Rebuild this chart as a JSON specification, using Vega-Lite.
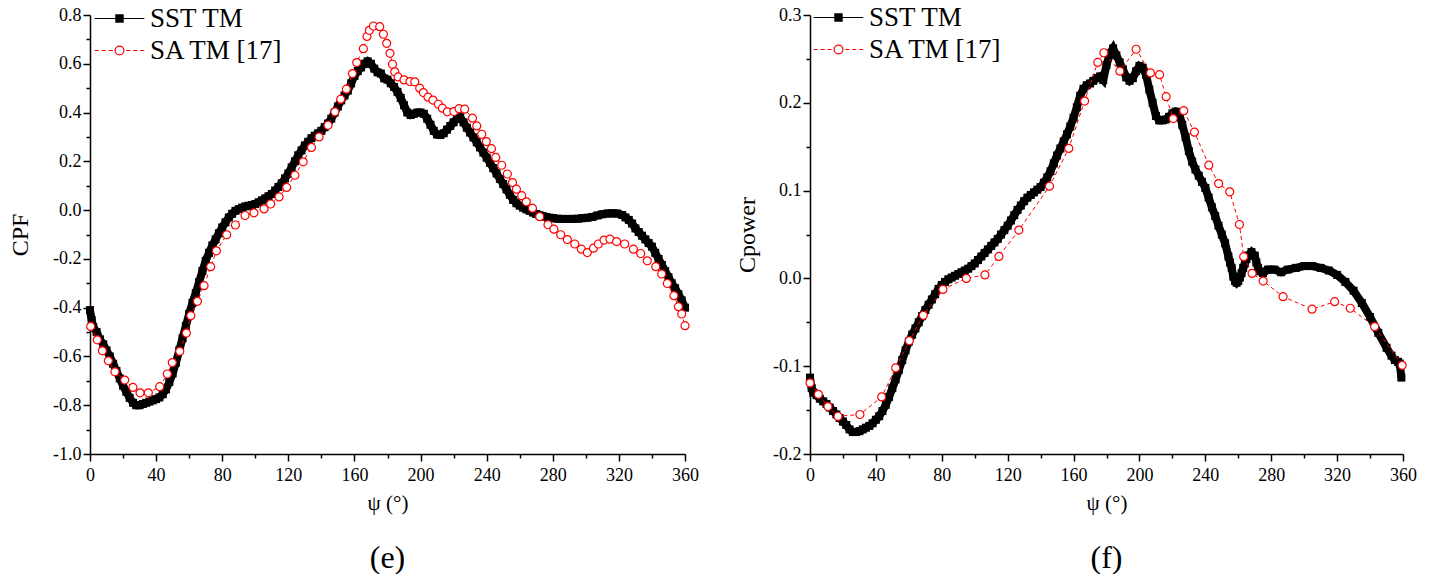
{
  "$schema": "https://vega.github.io/schema/vega-lite/v6.json",
  "background": "white",
  "padding": {"left": 8, "top": 4, "right": 5, "bottom": 0},
  "datasets": {
    "e": [
      {"m":"SST","psi":0,"c":-0.41},{"m":"SST","psi":1,"c":-0.45},{"m":"SST","psi":2,"c":-0.48},{"m":"SST","psi":4,"c":-0.5},{"m":"SST","psi":6,"c":-0.53},{"m":"SST","psi":8,"c":-0.55},{"m":"SST","psi":10,"c":-0.575},{"m":"SST","psi":12,"c":-0.6},{"m":"SST","psi":14,"c":-0.63},{"m":"SST","psi":16,"c":-0.66},{"m":"SST","psi":18,"c":-0.69},{"m":"SST","psi":20,"c":-0.72},{"m":"SST","psi":22,"c":-0.745},{"m":"SST","psi":24,"c":-0.77},{"m":"SST","psi":26,"c":-0.79},{"m":"SST","psi":28,"c":-0.8},{"m":"SST","psi":30,"c":-0.8},{"m":"SST","psi":32,"c":-0.795},{"m":"SST","psi":34,"c":-0.79},{"m":"SST","psi":36,"c":-0.785},{"m":"SST","psi":38,"c":-0.78},{"m":"SST","psi":40,"c":-0.775},{"m":"SST","psi":42,"c":-0.768},{"m":"SST","psi":44,"c":-0.755},{"m":"SST","psi":46,"c":-0.735},{"m":"SST","psi":48,"c":-0.705},{"m":"SST","psi":50,"c":-0.67},{"m":"SST","psi":52,"c":-0.625},{"m":"SST","psi":54,"c":-0.575},{"m":"SST","psi":56,"c":-0.525},{"m":"SST","psi":58,"c":-0.475},{"m":"SST","psi":60,"c":-0.425},{"m":"SST","psi":62,"c":-0.38},{"m":"SST","psi":64,"c":-0.34},{"m":"SST","psi":66,"c":-0.295},{"m":"SST","psi":68,"c":-0.25},{"m":"SST","psi":70,"c":-0.208},{"m":"SST","psi":72,"c":-0.175},{"m":"SST","psi":74,"c":-0.145},{"m":"SST","psi":76,"c":-0.12},{"m":"SST","psi":78,"c":-0.095},{"m":"SST","psi":80,"c":-0.071},{"m":"SST","psi":82,"c":-0.05},{"m":"SST","psi":84,"c":-0.03},{"m":"SST","psi":86,"c":-0.015},{"m":"SST","psi":88,"c":-0.003},{"m":"SST","psi":90,"c":0.004},{"m":"SST","psi":92,"c":0.01},{"m":"SST","psi":94,"c":0.015},{"m":"SST","psi":96,"c":0.018},{"m":"SST","psi":98,"c":0.021},{"m":"SST","psi":100,"c":0.025},{"m":"SST","psi":102,"c":0.032},{"m":"SST","psi":104,"c":0.04},{"m":"SST","psi":106,"c":0.048},{"m":"SST","psi":108,"c":0.057},{"m":"SST","psi":110,"c":0.066},{"m":"SST","psi":112,"c":0.08},{"m":"SST","psi":114,"c":0.095},{"m":"SST","psi":116,"c":0.11},{"m":"SST","psi":118,"c":0.13},{"m":"SST","psi":120,"c":0.15},{"m":"SST","psi":122,"c":0.175},{"m":"SST","psi":124,"c":0.2},{"m":"SST","psi":126,"c":0.225},{"m":"SST","psi":128,"c":0.245},{"m":"SST","psi":130,"c":0.265},{"m":"SST","psi":132,"c":0.28},{"m":"SST","psi":134,"c":0.295},{"m":"SST","psi":136,"c":0.305},{"m":"SST","psi":138,"c":0.315},{"m":"SST","psi":140,"c":0.325},{"m":"SST","psi":142,"c":0.34},{"m":"SST","psi":144,"c":0.355},{"m":"SST","psi":146,"c":0.375},{"m":"SST","psi":148,"c":0.4},{"m":"SST","psi":150,"c":0.425},{"m":"SST","psi":152,"c":0.45},{"m":"SST","psi":154,"c":0.47},{"m":"SST","psi":156,"c":0.49},{"m":"SST","psi":158,"c":0.52},{"m":"SST","psi":160,"c":0.55},{"m":"SST","psi":162,"c":0.57},{"m":"SST","psi":164,"c":0.585},{"m":"SST","psi":166,"c":0.6},{"m":"SST","psi":168,"c":0.61},{"m":"SST","psi":170,"c":0.6},{"m":"SST","psi":172,"c":0.58},{"m":"SST","psi":174,"c":0.565},{"m":"SST","psi":176,"c":0.56},{"m":"SST","psi":178,"c":0.54},{"m":"SST","psi":180,"c":0.535},{"m":"SST","psi":182,"c":0.52},{"m":"SST","psi":184,"c":0.505},{"m":"SST","psi":186,"c":0.485},{"m":"SST","psi":188,"c":0.46},{"m":"SST","psi":190,"c":0.43},{"m":"SST","psi":192,"c":0.4},{"m":"SST","psi":194,"c":0.39},{"m":"SST","psi":196,"c":0.395},{"m":"SST","psi":198,"c":0.4},{"m":"SST","psi":200,"c":0.4},{"m":"SST","psi":202,"c":0.395},{"m":"SST","psi":204,"c":0.375},{"m":"SST","psi":206,"c":0.35},{"m":"SST","psi":208,"c":0.325},{"m":"SST","psi":210,"c":0.31},{"m":"SST","psi":212,"c":0.308},{"m":"SST","psi":214,"c":0.315},{"m":"SST","psi":216,"c":0.33},{"m":"SST","psi":218,"c":0.345},{"m":"SST","psi":220,"c":0.36},{"m":"SST","psi":222,"c":0.375},{"m":"SST","psi":224,"c":0.38},{"m":"SST","psi":226,"c":0.36},{"m":"SST","psi":228,"c":0.338},{"m":"SST","psi":230,"c":0.318},{"m":"SST","psi":232,"c":0.298},{"m":"SST","psi":234,"c":0.278},{"m":"SST","psi":236,"c":0.257},{"m":"SST","psi":238,"c":0.236},{"m":"SST","psi":240,"c":0.215},{"m":"SST","psi":242,"c":0.194},{"m":"SST","psi":244,"c":0.172},{"m":"SST","psi":246,"c":0.15},{"m":"SST","psi":248,"c":0.128},{"m":"SST","psi":250,"c":0.107},{"m":"SST","psi":252,"c":0.085},{"m":"SST","psi":254,"c":0.063},{"m":"SST","psi":256,"c":0.042},{"m":"SST","psi":258,"c":0.028},{"m":"SST","psi":260,"c":0.018},{"m":"SST","psi":262,"c":0.01},{"m":"SST","psi":264,"c":0.003},{"m":"SST","psi":266,"c":-0.003},{"m":"SST","psi":268,"c":-0.01},{"m":"SST","psi":270,"c":-0.016},{"m":"SST","psi":272,"c":-0.021},{"m":"SST","psi":274,"c":-0.025},{"m":"SST","psi":276,"c":-0.028},{"m":"SST","psi":278,"c":-0.031},{"m":"SST","psi":280,"c":-0.033},{"m":"SST","psi":283,"c":-0.035},{"m":"SST","psi":286,"c":-0.036},{"m":"SST","psi":289,"c":-0.036},{"m":"SST","psi":292,"c":-0.036},{"m":"SST","psi":295,"c":-0.035},{"m":"SST","psi":298,"c":-0.033},{"m":"SST","psi":301,"c":-0.031},{"m":"SST","psi":304,"c":-0.028},{"m":"SST","psi":307,"c":-0.022},{"m":"SST","psi":310,"c":-0.017},{"m":"SST","psi":313,"c":-0.014},{"m":"SST","psi":316,"c":-0.013},{"m":"SST","psi":319,"c":-0.014},{"m":"SST","psi":322,"c":-0.02},{"m":"SST","psi":324,"c":-0.03},{"m":"SST","psi":326,"c":-0.04},{"m":"SST","psi":328,"c":-0.055},{"m":"SST","psi":330,"c":-0.075},{"m":"SST","psi":332,"c":-0.09},{"m":"SST","psi":334,"c":-0.105},{"m":"SST","psi":336,"c":-0.12},{"m":"SST","psi":338,"c":-0.135},{"m":"SST","psi":340,"c":-0.15},{"m":"SST","psi":342,"c":-0.175},{"m":"SST","psi":344,"c":-0.2},{"m":"SST","psi":346,"c":-0.225},{"m":"SST","psi":348,"c":-0.25},{"m":"SST","psi":350,"c":-0.275},{"m":"SST","psi":352,"c":-0.3},{"m":"SST","psi":354,"c":-0.32},{"m":"SST","psi":356,"c":-0.345},{"m":"SST","psi":358,"c":-0.37},{"m":"SST","psi":360,"c":-0.4},
      {"m":"SA","psi":0.4,"c":-0.477},{"m":"SA","psi":4.4,"c":-0.532},{"m":"SA","psi":7.5,"c":-0.577},{"m":"SA","psi":11.1,"c":-0.618},{"m":"SA","psi":15.1,"c":-0.663},{"m":"SA","psi":21,"c":-0.697},{"m":"SA","psi":26,"c":-0.727},{"m":"SA","psi":30.3,"c":-0.749},{"m":"SA","psi":35.3,"c":-0.749},{"m":"SA","psi":42.2,"c":-0.724},{"m":"SA","psi":46.8,"c":-0.672},{"m":"SA","psi":49.8,"c":-0.625},{"m":"SA","psi":54.3,"c":-0.579},{"m":"SA","psi":58.3,"c":-0.504},{"m":"SA","psi":61,"c":-0.433},{"m":"SA","psi":65,"c":-0.374},{"m":"SA","psi":69,"c":-0.31},{"m":"SA","psi":73,"c":-0.232},{"m":"SA","psi":76.5,"c":-0.167},{"m":"SA","psi":82.7,"c":-0.101},{"m":"SA","psi":88,"c":-0.061},{"m":"SA","psi":93.8,"c":-0.022},{"m":"SA","psi":99.2,"c":-0.011},{"m":"SA","psi":105.3,"c":0.005},{"m":"SA","psi":109.3,"c":0.025},{"m":"SA","psi":114.4,"c":0.054},{"m":"SA","psi":119,"c":0.093},{"m":"SA","psi":124,"c":0.143},{"m":"SA","psi":129,"c":0.198},{"m":"SA","psi":134,"c":0.257},{"m":"SA","psi":138.6,"c":0.3},{"m":"SA","psi":144,"c":0.348},{"m":"SA","psi":148.2,"c":0.403},{"m":"SA","psi":151.7,"c":0.455},{"m":"SA","psi":155.1,"c":0.496},{"m":"SA","psi":158.8,"c":0.56},{"m":"SA","psi":161.4,"c":0.605},{"m":"SA","psi":165.4,"c":0.662},{"m":"SA","psi":167.6,"c":0.712},{"m":"SA","psi":169,"c":0.737},{"m":"SA","psi":171.5,"c":0.755},{"m":"SA","psi":175.3,"c":0.752},{"m":"SA","psi":177.5,"c":0.721},{"m":"SA","psi":179.5,"c":0.684},{"m":"SA","psi":181.5,"c":0.643},{"m":"SA","psi":183,"c":0.598},{"m":"SA","psi":184.4,"c":0.567},{"m":"SA","psi":186.4,"c":0.546},{"m":"SA","psi":190,"c":0.534},{"m":"SA","psi":193.6,"c":0.527},{"m":"SA","psi":196.5,"c":0.526},{"m":"SA","psi":199.5,"c":0.5},{"m":"SA","psi":201.7,"c":0.482},{"m":"SA","psi":204.5,"c":0.463},{"m":"SA","psi":207.5,"c":0.451},{"m":"SA","psi":210.8,"c":0.434},{"m":"SA","psi":213.2,"c":0.418},{"m":"SA","psi":216.2,"c":0.403},{"m":"SA","psi":220.2,"c":0.404},{"m":"SA","psi":223.3,"c":0.416},{"m":"SA","psi":226.7,"c":0.414},{"m":"SA","psi":231.4,"c":0.377},{"m":"SA","psi":234,"c":0.345},{"m":"SA","psi":237,"c":0.311},{"m":"SA","psi":239.8,"c":0.281},{"m":"SA","psi":242.9,"c":0.252},{"m":"SA","psi":245.5,"c":0.216},{"m":"SA","psi":249.1,"c":0.184},{"m":"SA","psi":252.5,"c":0.148},{"m":"SA","psi":255.6,"c":0.113},{"m":"SA","psi":258,"c":0.086},{"m":"SA","psi":261.2,"c":0.059},{"m":"SA","psi":264,"c":0.034},{"m":"SA","psi":267.7,"c":0.008},{"m":"SA","psi":272.1,"c":-0.027},{"m":"SA","psi":277.1,"c":-0.06},{"m":"SA","psi":280.7,"c":-0.078},{"m":"SA","psi":284.8,"c":-0.101},{"m":"SA","psi":288.8,"c":-0.121},{"m":"SA","psi":293.3,"c":-0.139},{"m":"SA","psi":297.3,"c":-0.16},{"m":"SA","psi":300.9,"c":-0.174},{"m":"SA","psi":304.6,"c":-0.156},{"m":"SA","psi":307.6,"c":-0.139},{"m":"SA","psi":311,"c":-0.123},{"m":"SA","psi":314.6,"c":-0.119},{"m":"SA","psi":318.6,"c":-0.129},{"m":"SA","psi":323.5,"c":-0.139},{"m":"SA","psi":328.8,"c":-0.16},{"m":"SA","psi":333.2,"c":-0.178},{"m":"SA","psi":337.2,"c":-0.208},{"m":"SA","psi":342.3,"c":-0.232},{"m":"SA","psi":345.9,"c":-0.262},{"m":"SA","psi":349.3,"c":-0.301},{"m":"SA","psi":353.3,"c":-0.351},{"m":"SA","psi":356,"c":-0.396},{"m":"SA","psi":358,"c":-0.426},{"m":"SA","psi":360,"c":-0.474}
    ],
    "f": [
      {"m":"SST","psi":0,"c":-0.113},{"m":"SST","psi":1,"c":-0.125},{"m":"SST","psi":2,"c":-0.13},{"m":"SST","psi":4,"c":-0.133},{"m":"SST","psi":6,"c":-0.137},{"m":"SST","psi":8,"c":-0.14},{"m":"SST","psi":10,"c":-0.143},{"m":"SST","psi":12,"c":-0.147},{"m":"SST","psi":14,"c":-0.151},{"m":"SST","psi":16,"c":-0.155},{"m":"SST","psi":18,"c":-0.159},{"m":"SST","psi":20,"c":-0.163},{"m":"SST","psi":22,"c":-0.167},{"m":"SST","psi":24,"c":-0.172},{"m":"SST","psi":26,"c":-0.175},{"m":"SST","psi":28,"c":-0.175},{"m":"SST","psi":30,"c":-0.174},{"m":"SST","psi":32,"c":-0.172},{"m":"SST","psi":34,"c":-0.17},{"m":"SST","psi":36,"c":-0.168},{"m":"SST","psi":38,"c":-0.165},{"m":"SST","psi":40,"c":-0.161},{"m":"SST","psi":42,"c":-0.157},{"m":"SST","psi":44,"c":-0.151},{"m":"SST","psi":46,"c":-0.144},{"m":"SST","psi":48,"c":-0.135},{"m":"SST","psi":50,"c":-0.125},{"m":"SST","psi":52,"c":-0.115},{"m":"SST","psi":54,"c":-0.104},{"m":"SST","psi":56,"c":-0.093},{"m":"SST","psi":58,"c":-0.082},{"m":"SST","psi":60,"c":-0.072},{"m":"SST","psi":62,"c":-0.064},{"m":"SST","psi":64,"c":-0.057},{"m":"SST","psi":66,"c":-0.05},{"m":"SST","psi":68,"c":-0.043},{"m":"SST","psi":70,"c":-0.036},{"m":"SST","psi":72,"c":-0.03},{"m":"SST","psi":74,"c":-0.024},{"m":"SST","psi":76,"c":-0.018},{"m":"SST","psi":78,"c":-0.012},{"m":"SST","psi":80,"c":-0.0075},{"m":"SST","psi":82,"c":-0.004},{"m":"SST","psi":84,"c":-0.001},{"m":"SST","psi":86,"c":0.001},{"m":"SST","psi":88,"c":0.003},{"m":"SST","psi":90,"c":0.005},{"m":"SST","psi":92,"c":0.007},{"m":"SST","psi":94,"c":0.009},{"m":"SST","psi":96,"c":0.011},{"m":"SST","psi":98,"c":0.014},{"m":"SST","psi":100,"c":0.017},{"m":"SST","psi":102,"c":0.021},{"m":"SST","psi":104,"c":0.025},{"m":"SST","psi":106,"c":0.029},{"m":"SST","psi":108,"c":0.033},{"m":"SST","psi":110,"c":0.037},{"m":"SST","psi":112,"c":0.041},{"m":"SST","psi":114,"c":0.045},{"m":"SST","psi":116,"c":0.05},{"m":"SST","psi":118,"c":0.055},{"m":"SST","psi":120,"c":0.06},{"m":"SST","psi":122,"c":0.066},{"m":"SST","psi":124,"c":0.072},{"m":"SST","psi":126,"c":0.078},{"m":"SST","psi":128,"c":0.083},{"m":"SST","psi":130,"c":0.088},{"m":"SST","psi":132,"c":0.092},{"m":"SST","psi":134,"c":0.095},{"m":"SST","psi":136,"c":0.098},{"m":"SST","psi":138,"c":0.101},{"m":"SST","psi":140,"c":0.104},{"m":"SST","psi":142,"c":0.109},{"m":"SST","psi":144,"c":0.115},{"m":"SST","psi":146,"c":0.122},{"m":"SST","psi":148,"c":0.131},{"m":"SST","psi":150,"c":0.14},{"m":"SST","psi":152,"c":0.148},{"m":"SST","psi":154,"c":0.156},{"m":"SST","psi":156,"c":0.164},{"m":"SST","psi":158,"c":0.173},{"m":"SST","psi":160,"c":0.183},{"m":"SST","psi":162,"c":0.195},{"m":"SST","psi":164,"c":0.208},{"m":"SST","psi":166,"c":0.216},{"m":"SST","psi":168,"c":0.22},{"m":"SST","psi":170,"c":0.222},{"m":"SST","psi":172,"c":0.225},{"m":"SST","psi":174,"c":0.228},{"m":"SST","psi":176,"c":0.23},{"m":"SST","psi":178,"c":0.226},{"m":"SST","psi":180,"c":0.243},{"m":"SST","psi":182,"c":0.256},{"m":"SST","psi":184,"c":0.262},{"m":"SST","psi":186,"c":0.254},{"m":"SST","psi":188,"c":0.246},{"m":"SST","psi":190,"c":0.238},{"m":"SST","psi":192,"c":0.229},{"m":"SST","psi":194,"c":0.225},{"m":"SST","psi":196,"c":0.228},{"m":"SST","psi":198,"c":0.236},{"m":"SST","psi":200,"c":0.242},{"m":"SST","psi":202,"c":0.24},{"m":"SST","psi":204,"c":0.232},{"m":"SST","psi":206,"c":0.215},{"m":"SST","psi":208,"c":0.2},{"m":"SST","psi":210,"c":0.185},{"m":"SST","psi":212,"c":0.18},{"m":"SST","psi":214,"c":0.18},{"m":"SST","psi":216,"c":0.181},{"m":"SST","psi":218,"c":0.184},{"m":"SST","psi":220,"c":0.188},{"m":"SST","psi":222,"c":0.19},{"m":"SST","psi":224,"c":0.188},{"m":"SST","psi":226,"c":0.175},{"m":"SST","psi":228,"c":0.161},{"m":"SST","psi":230,"c":0.145},{"m":"SST","psi":232,"c":0.133},{"m":"SST","psi":234,"c":0.124},{"m":"SST","psi":236,"c":0.117},{"m":"SST","psi":238,"c":0.11},{"m":"SST","psi":240,"c":0.103},{"m":"SST","psi":242,"c":0.092},{"m":"SST","psi":244,"c":0.081},{"m":"SST","psi":246,"c":0.071},{"m":"SST","psi":248,"c":0.06},{"m":"SST","psi":250,"c":0.05},{"m":"SST","psi":252,"c":0.04},{"m":"SST","psi":254,"c":0.025},{"m":"SST","psi":255,"c":0.018},{"m":"SST","psi":256,"c":0.012},{"m":"SST","psi":257,"c":0.002},{"m":"SST","psi":258,"c":-0.003},{"m":"SST","psi":259,"c":-0.005},{"m":"SST","psi":260,"c":-0.003},{"m":"SST","psi":261,"c":0.001},{"m":"SST","psi":262,"c":0.006},{"m":"SST","psi":263,"c":0.012},{"m":"SST","psi":264,"c":0.017},{"m":"SST","psi":265,"c":0.022},{"m":"SST","psi":266,"c":0.026},{"m":"SST","psi":268,"c":0.03},{"m":"SST","psi":270,"c":0.026},{"m":"SST","psi":271,"c":0.018},{"m":"SST","psi":272,"c":0.012},{"m":"SST","psi":273,"c":0.008},{"m":"SST","psi":275,"c":0.006},{"m":"SST","psi":278,"c":0.01},{"m":"SST","psi":282,"c":0.01},{"m":"SST","psi":286,"c":0.007},{"m":"SST","psi":290,"c":0.01},{"m":"SST","psi":295,"c":0.012},{"m":"SST","psi":300,"c":0.014},{"m":"SST","psi":305,"c":0.014},{"m":"SST","psi":310,"c":0.012},{"m":"SST","psi":315,"c":0.009},{"m":"SST","psi":320,"c":0.004},{"m":"SST","psi":325,"c":-0.004},{"m":"SST","psi":330,"c":-0.014},{"m":"SST","psi":335,"c":-0.028},{"m":"SST","psi":340,"c":-0.044},{"m":"SST","psi":345,"c":-0.062},{"m":"SST","psi":350,"c":-0.079},{"m":"SST","psi":353,"c":-0.088},{"m":"SST","psi":355,"c":-0.093},{"m":"SST","psi":357,"c":-0.095},{"m":"SST","psi":358,"c":-0.097},{"m":"SST","psi":359,"c":-0.113},
      {"m":"SA","psi":0,"c":-0.119},{"m":"SA","psi":5.1,"c":-0.132},{"m":"SA","psi":10.9,"c":-0.146},{"m":"SA","psi":17,"c":-0.157},{"m":"SA","psi":30.3,"c":-0.155},{"m":"SA","psi":43.5,"c":-0.135},{"m":"SA","psi":52,"c":-0.102},{"m":"SA","psi":60.3,"c":-0.071},{"m":"SA","psi":68.8,"c":-0.042},{"m":"SA","psi":80.7,"c":-0.0125},{"m":"SA","psi":94.9,"c":0},{"m":"SA","psi":106.2,"c":0.004},{"m":"SA","psi":114.7,"c":0.025},{"m":"SA","psi":126.8,"c":0.055},{"m":"SA","psi":145.4,"c":0.105},{"m":"SA","psi":157.1,"c":0.148},{"m":"SA","psi":166.7,"c":0.202},{"m":"SA","psi":174.7,"c":0.246},{"m":"SA","psi":178.4,"c":0.257},{"m":"SA","psi":188.1,"c":0.236},{"m":"SA","psi":198,"c":0.261},{"m":"SA","psi":206.7,"c":0.234},{"m":"SA","psi":212.2,"c":0.232},{"m":"SA","psi":216.2,"c":0.207},{"m":"SA","psi":220.5,"c":0.182},{"m":"SA","psi":226.9,"c":0.191},{"m":"SA","psi":233.4,"c":0.1665},{"m":"SA","psi":242.1,"c":0.129},{"m":"SA","psi":248.1,"c":0.108},{"m":"SA","psi":254.8,"c":0.0986},{"m":"SA","psi":260.7,"c":0.0614},{"m":"SA","psi":263.3,"c":0.0247},{"m":"SA","psi":268.4,"c":0.0057},{"m":"SA","psi":275.1,"c":-0.003},{"m":"SA","psi":287.2,"c":-0.0208},{"m":"SA","psi":304.8,"c":-0.035},{"m":"SA","psi":318.5,"c":-0.0265},{"m":"SA","psi":328,"c":-0.034},{"m":"SA","psi":342.8,"c":-0.055},{"m":"SA","psi":359.5,"c":-0.099}
    ]
  },
  "hconcat": [
    {
      "width": 595,
      "height": 439,
      "data": {"name": "e"},
      "title": {"text": "(e)", "orient": "bottom", "anchor": "middle", "fontSize": 32, "font": "Liberation Serif", "fontWeight": "normal", "color": "black", "offset": 30},
      "encoding": {
        "x": {"field": "psi", "type": "quantitative", "scale": {"domain": [0, 360], "nice": false, "zero": false},
          "axis": {"values": [0,20,40,60,80,100,120,140,160,180,200,220,240,260,280,300,320,340,360], "labelExpr": "datum.value % 40 === 0 ? datum.label : ''", "tickSize": {"condition": {"test": "datum.value % 40 === 0", "value": 7}, "value": 4}, "labelPadding": 5, "labelOverlap": false, "labelFlush": false, "title": "ψ (°)", "titleFontSize": 21, "titlePadding": 8}},
        "y": {"field": "c", "type": "quantitative", "scale": {"domain": [-1, 0.8], "nice": false, "zero": false},
          "axis": {"values": [-1,-0.9,-0.8,-0.7,-0.6,-0.5,-0.4,-0.3,-0.2,-0.1,0,0.1,0.2,0.3,0.4,0.5,0.6,0.7,0.8], "labelExpr": "abs(round(datum.value*10)) % 2 === 0 ? (datum.value < -0.001 ? '-' : '') + format(abs(datum.value), '.1f') : ''", "tickSize": {"condition": {"test": "abs(round(datum.value*10)) % 2 === 0", "value": 7}, "value": 4}, "labelPadding": 2, "labelOverlap": false, "labelFlush": false, "title": "CPF", "titleFontSize": 24, "titlePadding": 20}}
      },
      "layer": [
        {"transform": [{"filter": "datum.m == 'SST'"}], "mark": {"type": "line", "color": "black", "strokeWidth": 8}},
        {"transform": [{"filter": "datum.m == 'SST'"}], "mark": {"type": "point", "shape": "square", "filled": true, "color": "black", "size": 64, "opacity": 1}},
        {"transform": [{"filter": "datum.m == 'SA'"}], "mark": {"type": "line", "color": "red", "strokeWidth": 1, "strokeDash": [4, 3]}},
        {"transform": [{"filter": "datum.m == 'SA'"}], "mark": {"type": "point", "shape": "circle", "filled": true, "fill": "white", "stroke": "red", "strokeWidth": 1.2, "size": 64, "opacity": 1}},
        {"transform": [{"filter": "false"}], "mark": {"type": "point", "filled": true, "opacity": 1, "strokeWidth": 1.2},
          "encoding": {
            "shape": {"field": "m", "type": "nominal", "scale": {"domain": ["SST", "SA"], "range": ["M-3.1,0H3.1M-0.45,-0.45H0.45V0.45H-0.45Z", "M-3.1,0H-2.6M-2.225,0H-1.725M-1.35,0H-0.85M0.85,0H1.35M1.725,0H2.225M2.6,0H3.1M0.55,0A0.55,0.55,0,1,1,-0.55,0A0.55,0.55,0,1,1,0.55,0Z"]},
              "legend": {"orient": "none", "legendX": 16, "legendY": -10, "title": null, "labelFont": "Liberation Serif", "labelFontSize": 27, "labelColor": "black", "symbolSize": 256, "symbolStrokeWidth": 1.2, "labelOffset": 17, "rowPadding": 4, "labelLimit": 400, "labelExpr": "datum.label == 'SST' ? 'SST TM' : 'SA TM [17]'"}},
            "fill": {"field": "m", "type": "nominal", "scale": {"domain": ["SST", "SA"], "range": ["black", "white"]},
              "legend": {"orient": "none", "legendX": 16, "legendY": -10, "title": null, "labelFont": "Liberation Serif", "labelFontSize": 27, "labelColor": "black", "symbolSize": 256, "symbolStrokeWidth": 1.2, "labelOffset": 17, "rowPadding": 4, "labelLimit": 400, "labelExpr": "datum.label == 'SST' ? 'SST TM' : 'SA TM [17]'"}},
            "stroke": {"field": "m", "type": "nominal", "scale": {"domain": ["SST", "SA"], "range": ["black", "red"]},
              "legend": {"orient": "none", "legendX": 16, "legendY": -10, "title": null, "labelFont": "Liberation Serif", "labelFontSize": 27, "labelColor": "black", "symbolSize": 256, "symbolStrokeWidth": 1.2, "labelOffset": 17, "rowPadding": 4, "labelLimit": 400, "labelExpr": "datum.label == 'SST' ? 'SST TM' : 'SA TM [17]'"}}
          }
        }
      ]
    },
    {
      "width": 593,
      "height": 439,
      "data": {"name": "f"},
      "title": {"text": "(f)", "orient": "bottom", "anchor": "middle", "fontSize": 32, "font": "Liberation Serif", "fontWeight": "normal", "color": "black", "offset": 30},
      "encoding": {
        "x": {"field": "psi", "type": "quantitative", "scale": {"domain": [0, 360], "nice": false, "zero": false},
          "axis": {"values": [0,20,40,60,80,100,120,140,160,180,200,220,240,260,280,300,320,340,360], "labelExpr": "datum.value % 40 === 0 ? datum.label : ''", "tickSize": {"condition": {"test": "datum.value % 40 === 0", "value": 7}, "value": 4}, "labelPadding": 5, "labelOverlap": false, "labelFlush": false, "title": "ψ (°)", "titleFontSize": 21, "titlePadding": 8}},
        "y": {"field": "c", "type": "quantitative", "scale": {"domain": [-0.2, 0.3], "nice": false, "zero": false},
          "axis": {"values": [-0.2,-0.15,-0.1,-0.05,0,0.05,0.1,0.15,0.2,0.25,0.3], "labelExpr": "abs(round(datum.value*100)) % 10 === 0 ? (datum.value < -0.001 ? '-' : '') + format(abs(datum.value), '.1f') : ''", "tickSize": {"condition": {"test": "abs(round(datum.value*100)) % 10 === 0", "value": 7}, "value": 4}, "labelPadding": 2, "labelOverlap": false, "labelFlush": false, "title": "Cpower", "titleFontSize": 24, "titlePadding": 13}}
      },
      "layer": [
        {"transform": [{"filter": "datum.m == 'SST'"}], "mark": {"type": "line", "color": "black", "strokeWidth": 8}},
        {"transform": [{"filter": "datum.m == 'SST'"}], "mark": {"type": "point", "shape": "square", "filled": true, "color": "black", "size": 64, "opacity": 1}},
        {"transform": [{"filter": "datum.m == 'SA'"}], "mark": {"type": "line", "color": "red", "strokeWidth": 1, "strokeDash": [4, 3]}},
        {"transform": [{"filter": "datum.m == 'SA'"}], "mark": {"type": "point", "shape": "circle", "filled": true, "fill": "white", "stroke": "red", "strokeWidth": 1.2, "size": 64, "opacity": 1}},
        {"transform": [{"filter": "false"}], "mark": {"type": "point", "filled": true, "opacity": 1, "strokeWidth": 1.2},
          "encoding": {
            "shape": {"field": "m", "type": "nominal", "scale": {"domain": ["SST", "SA"], "range": ["M-3.1,0H3.1M-0.45,-0.45H0.45V0.45H-0.45Z", "M-3.1,0H-2.6M-2.225,0H-1.725M-1.35,0H-0.85M0.85,0H1.35M1.725,0H2.225M2.6,0H3.1M0.55,0A0.55,0.55,0,1,1,-0.55,0A0.55,0.55,0,1,1,0.55,0Z"]},
              "legend": {"orient": "none", "legendX": 15, "legendY": -11, "title": null, "labelFont": "Liberation Serif", "labelFontSize": 27, "labelColor": "black", "symbolSize": 256, "symbolStrokeWidth": 1.2, "labelOffset": 17, "rowPadding": 4, "labelLimit": 400, "labelExpr": "datum.label == 'SST' ? 'SST TM' : 'SA TM [17]'"}},
            "fill": {"field": "m", "type": "nominal", "scale": {"domain": ["SST", "SA"], "range": ["black", "white"]},
              "legend": {"orient": "none", "legendX": 15, "legendY": -11, "title": null, "labelFont": "Liberation Serif", "labelFontSize": 27, "labelColor": "black", "symbolSize": 256, "symbolStrokeWidth": 1.2, "labelOffset": 17, "rowPadding": 4, "labelLimit": 400, "labelExpr": "datum.label == 'SST' ? 'SST TM' : 'SA TM [17]'"}},
            "stroke": {"field": "m", "type": "nominal", "scale": {"domain": ["SST", "SA"], "range": ["black", "red"]},
              "legend": {"orient": "none", "legendX": 15, "legendY": -11, "title": null, "labelFont": "Liberation Serif", "labelFontSize": 27, "labelColor": "black", "symbolSize": 256, "symbolStrokeWidth": 1.2, "labelOffset": 17, "rowPadding": 4, "labelLimit": 400, "labelExpr": "datum.label == 'SST' ? 'SST TM' : 'SA TM [17]'"}}
          }
        }
      ]
    }
  ],
  "spacing": 125,
  "bounds": "flush",
  "resolve": {
    "scale": {"shape": "independent", "fill": "independent", "stroke": "independent"},
    "legend": {"shape": "independent", "fill": "independent", "stroke": "independent"}
  },
  "config": {
    "view": {"stroke": null},
    "font": "Liberation Serif",
    "axis": {"grid": false, "domainColor": "black", "domainWidth": 1.5, "tickColor": "black", "tickWidth": 1.5, "labelFont": "Liberation Serif", "labelFontSize": 18, "labelColor": "black", "titleFont": "Liberation Serif", "titleColor": "black", "titleFontWeight": "normal"}
  }
}
